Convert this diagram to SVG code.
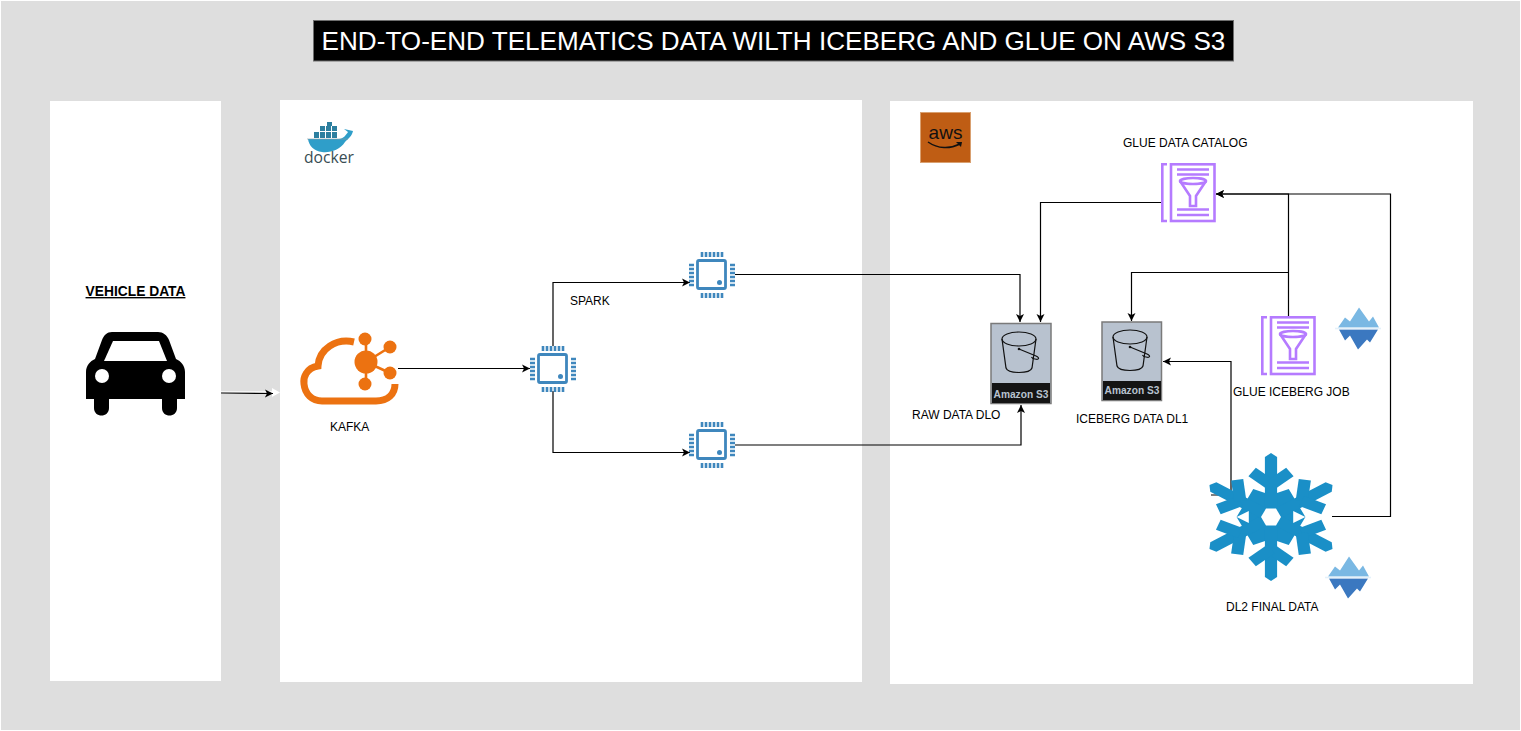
<svg xmlns="http://www.w3.org/2000/svg" xmlns:xlink="http://www.w3.org/1999/xlink" width="1521" height="731" viewBox="0 0 1521 731">
<style>
text{font-family:"Liberation Sans",Arial,sans-serif;fill:#000}
.lbl{font-size:12px}
.s3t{font-size:10.2px;font-weight:bold;fill:#b8c2cf;text-anchor:middle}
.cn{fill:none;stroke:#000;stroke-width:1.2}
.gl{fill:none;stroke:#b57bff;stroke-width:2.6}
.pin{stroke:#3f87bd;stroke-width:2.6;fill:none}
.bk{fill:none;stroke:#111;stroke-width:1.2}
</style>
<defs>
<marker id="ah" markerUnits="userSpaceOnUse" markerWidth="10" markerHeight="10" refX="8" refY="5" orient="auto"><path d="M0 1 L8 5 L0 9 L2 5 Z" fill="#000"/></marker>
<symbol id="chip" viewBox="0 0 46 46" width="46" height="46" overflow="visible">
<rect x="8.5" y="8.5" width="28" height="28" rx="1.5" fill="#fff" stroke="#3f87bd" stroke-width="2.8"/>
<circle cx="30.5" cy="30.5" r="2.5" fill="#3f87bd"/>
<path class="pin" d="M13 0v5M17 0v5M21 0v5M25 0v5M29 0v5M33 0v5M13 41v5M17 41v5M21 41v5M25 41v5M29 41v5M33 41v5M0 13h5M0 17h5M0 21h5M0 25h5M0 29h5M0 33h5M41 13h5M41 17h5M41 21h5M41 25h5M41 29h5M41 33h5"/>
</symbol>
<symbol id="glue" viewBox="0 0 55 60" width="55" height="60" overflow="visible">
<path class="gl" d="M6 1.300H1.300V58H6"/>
<rect class="gl" x="10" y="1.300" width="43.500" height="56.700"/>
<path class="gl" d="M16 6.500H48M16 11.500H48M16 46.500H48M16 52H48"/>
<ellipse class="gl" cx="32" cy="18" rx="13" ry="3"/>
<path class="gl" d="M19 18L29 33V43H35V33L45 18"/>
</symbol>
<symbol id="bucket" viewBox="0 0 60 58" width="60" height="58" overflow="visible">
<ellipse class="bk" cx="29" cy="16" rx="17" ry="7"/>
<path class="bk" d="M12 16L16 45C18 51 40 51 42 45L46 16"/>
<circle cx="29" cy="26" r="1.300" fill="#111"/>
<path class="bk" d="M29 26L46 33C50 35 49 37 45 36C43 36 42 35 41.500 34"/>
</symbol>
<symbol id="berg" viewBox="-23 -22 46 44" width="46" height="44" overflow="visible">
<path d="M-20 -1L-13 -11L-8 -7L1 -21L11 -7L15 -12L21 -1Z" fill="#7ab8e3"/>
<path d="M-19 1L-13 12L-8 7L0 21L9 11L12 14L20 1Z" fill="#3b78c0"/>
<rect x="-23" y="-0.800" width="46" height="1.600" fill="#e4f1fa"/>
</symbol>
<g id="arm">
<path d="M-5.500 0V-60L0 -64L5.500 -60V0Z" fill="#1a8fc7"/>
<path d="M0 -32L-17 -45" stroke="#1a8fc7" stroke-width="11" fill="none"/>
<path d="M0 -32L17 -45" stroke="#1a8fc7" stroke-width="11" fill="none"/>
</g>
</defs>

<rect x="0" y="0" width="1521" height="731" fill="#fff"/>
<rect x="1" y="1" width="1519" height="729" fill="#dedede"/>
<rect id="panel-vehicle" x="50" y="101" width="171" height="580" fill="#fff"/>
<rect id="panel-docker" x="280" y="100" width="582" height="582" fill="#fff"/>
<rect id="panel-aws" x="890" y="101" width="583" height="583" fill="#fff"/>

<g id="title">
<rect x="313.500" y="20.500" width="920" height="40.500" fill="#000" stroke="#6e6e6e"/>
<text x="773.500" y="50" font-size="26.100" text-anchor="middle" style="fill:#fff">END-TO-END TELEMATICS DATA WILTH ICEBERG AND GLUE ON AWS S3</text>
</g>

<g id="connectors">
<path d="M221 392.500H272" stroke="#f4f4f4" stroke-width="3" fill="none"/>
<path d="M272 388L280 392.500L272 397Z" fill="#fff"/>
<path class="cn" d="M221 393L273 393.500" marker-end="url(#ah)"/>
<path class="cn" d="M398 368.500H530" marker-end="url(#ah)"/>
<path class="cn" d="M553 346V282.500H690" marker-end="url(#ah)"/>
<path class="cn" d="M553 391V452.500H690" marker-end="url(#ah)"/>
<path class="cn" d="M735 274.500H1020V322" marker-end="url(#ah)"/>
<path class="cn" d="M735 445H1021V405" marker-end="url(#ah)"/>
<path class="cn" d="M1161 202.500H1040.500V322" marker-end="url(#ah)"/>
<path class="cn" d="M1288.500 316V194H1216" marker-end="url(#ah)"/>
<path class="cn" d="M1288.500 272.500H1131.500V321" marker-end="url(#ah)"/>
<path class="cn" d="M1332 516.500H1390.500V194H1216" marker-end="url(#ah)"/>
<path class="cn" d="M1211 495H1231V361.500H1163" marker-end="url(#ah)"/>
</g>

<g id="vehicle">
<text x="135.500" y="296" font-size="13.800" font-weight="bold" text-anchor="middle" text-decoration="underline">VEHICLE DATA</text>
<path d="M112 332H158C163 332 167 335 169 340L176 359C181 361 185 366 185 372V399H177V408C177 418 162 418 162 408V399H109V408C109 418 94 418 94 408V399H86V372C86 366 90 361 95 359L102 340C104 335 107 332 112 332Z" fill="#000"/>
<path d="M113 341H159L167 361H104Z" fill="#fff"/>
<circle cx="102" cy="376" r="7" fill="#fff"/>
<circle cx="169" cy="376" r="7" fill="#fff"/>
</g>

<g id="kafka">
<path d="M354 342C336 338 319 349 318 366C306 368 303 378 304 384C305 394 312 401 322 401H376C388 401 395 394 395 384" fill="none" stroke="#ec7211" stroke-width="7"/>
<path d="M366 362V339M366 362V384M366 362L390 347M366 362L390 373" stroke="#ec7211" stroke-width="2.600" fill="none"/>
<circle cx="366" cy="362" r="11.500" fill="#ec7211"/>
<circle cx="365" cy="339" r="6.500" fill="#ec7211"/>
<circle cx="390" cy="347" r="6.500" fill="#ec7211"/>
<circle cx="390" cy="373" r="6.500" fill="#ec7211"/>
<circle cx="365" cy="384" r="6.500" fill="#ec7211"/>
<text class="lbl" x="330" y="431">KAFKA</text>
</g>

<g id="docker">
<path d="M308 139H339C343 139 346 135 348 132L344 129L353 131C352 136 348 139 345 142C340 150 330 153 322 152C314 151 309 146 308 139Z" fill="#2f9ec9"/>
<path d="M314 132h5v6h-5zM320 132h5v6h-5zM326 132h5v6h-5zM332 132h5v6h-5zM320 126h5v5h-5zM326 126h5v5h-5zM332 126h5v5h-5zM327 122h5v4h-5z" fill="#2d7f9f"/>
<path d="M307 139H348" stroke="#8a9aa2" stroke-width="0.600"/>
<text x="304" y="163" font-size="17" textLength="50" lengthAdjust="spacingAndGlyphs" style="font-family:'Open Sans',sans-serif;fill:#394d54">docker</text>
</g>

<use id="spark-main" href="#chip" x="530" y="346"/>
<use id="spark-top" href="#chip" x="689" y="252"/>
<use id="spark-bottom" href="#chip" x="689" y="422"/>
<text id="spark-label" class="lbl" x="570" y="305">SPARK</text>

<g id="aws">
<rect x="920.500" y="112.500" width="50" height="50" fill="#bf5d14" stroke="#d9a070"/>
<text x="945.500" y="139" font-size="19" text-anchor="middle" style="fill:#111">aws</text>
<path d="M928 142C938 149 950 149 960 144" fill="none" stroke="#111" stroke-width="1.500"/>
<path d="M956 142L962 142L961 147Z" fill="#111"/>
</g>

<g id="glue-catalog">
<text class="lbl" x="1123" y="147">GLUE DATA CATALOG</text>
<use href="#glue" x="1161" y="163"/>
</g>

<g id="s3-raw">
<rect x="991" y="323.500" width="60" height="80" fill="#b8c2cf" stroke="#7a7a7a" stroke-width="1.500"/>
<rect x="992" y="383" width="58" height="20" fill="#141414"/>
<use href="#bucket" x="990" y="323"/>
<text class="s3t" x="1021" y="398">Amazon S3</text>
<text class="lbl" x="912" y="419">RAW DATA DLO</text>
</g>

<g id="s3-iceberg">
<rect x="1102" y="322" width="59.500" height="78.500" fill="#b8c2cf" stroke="#7a7a7a" stroke-width="1.500"/>
<rect x="1103" y="381" width="58" height="19" fill="#141414"/>
<use href="#bucket" x="1101" y="321"/>
<text class="s3t" x="1132" y="394">Amazon S3</text>
<text class="lbl" x="1076" y="423">ICEBERG DATA DL1</text>
</g>

<g id="glue-job">
<use href="#glue" x="1261" y="316"/>
<use href="#berg" x="1335" y="306.500"/>
<text class="lbl" x="1233" y="396">GLUE ICEBERG JOB</text>
</g>

<g id="snowflake">
<g transform="translate(1271 517) scale(1.110 1)">
<path d="M-16 -28L0 -22L16 -28L31 0L16 28L0 22L-16 28L-31 0Z" fill="#1a8fc7"/>
<use href="#arm"/>
<use href="#arm" transform="rotate(60)"/>
<use href="#arm" transform="rotate(120)"/>
<use href="#arm" transform="rotate(180)"/>
<use href="#arm" transform="rotate(240)"/>
<use href="#arm" transform="rotate(300)"/>
<path d="M-31 0L-20 -6V6ZM31 0L20 -6V6Z" fill="#fff"/>
<path d="M-9 0L-4.500 -8.500H4.500L9 0L4.500 8.500H-4.500Z" fill="#fff"/>
</g>
<use href="#berg" x="1325" y="555.500"/>
<text class="lbl" x="1226" y="611">DL2 FINAL DATA</text>
</g>
</svg>
